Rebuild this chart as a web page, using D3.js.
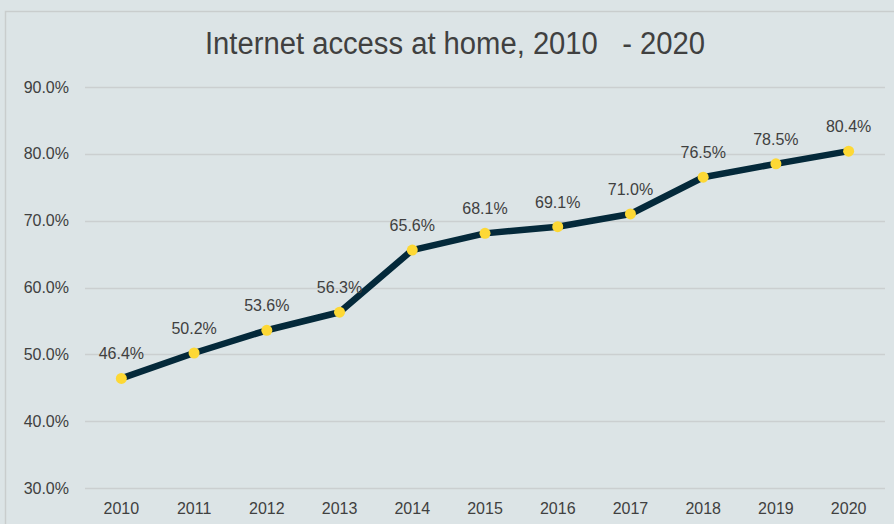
<!DOCTYPE html>
<html>
<head>
<meta charset="utf-8">
<script src="https://cdn.jsdelivr.net/npm/d3@7"></script>
<style>
  body { margin: 0; background: #dce4e6; }
  svg { display: block; font-family: "Liberation Sans", Arial, sans-serif; }
</style>
</head>
<body>
<div id="chart"></div>
<script>
// data
const years  = ['2010','2011','2012','2013','2014','2015','2016','2017','2018','2019','2020'];
const access = [46.4, 50.2, 53.6, 56.3, 65.6, 68.1, 69.1, 71.0, 76.5, 78.5, 80.4];
const yTicks = [30, 40, 50, 60, 70, 80, 90];
const title  = 'Internet access at home, 2010   - 2020';

const width  = 894;
const height = 524;
const margin = { top: 87, right: 9, bottom: 36, left: 85 };

const svg = d3.select('#chart').append('svg')
  .attr('width', width)
  .attr('height', height);

// chart frame (runs off the right/bottom edge like the original)
svg.append('rect')
  .attr('x', 5.5).attr('y', 11.5)
  .attr('width', width + 10).attr('height', height + 10)
  .attr('fill', '#dce4e6')
  .attr('stroke', '#c9cdcd')
  .attr('stroke-width', 1.5);

const x = d3.scaleBand()
  .domain(years)
  .range([margin.left, width - margin.right])
  .padding(0);

const y = d3.scaleLinear()
  .domain([30, 90])
  .range([height - margin.bottom, margin.top]);

// gridlines
svg.append('g')
  .selectAll('line')
  .data(yTicks)
  .join('line')
  .attr('x1', margin.left)
  .attr('x2', width - margin.right)
  .attr('y1', d => Math.round(y(d)) + 0.5)
  .attr('y2', d => Math.round(y(d)) + 0.5)
  .attr('stroke', '#cbcfd0')
  .attr('stroke-width', 1.5);

// y axis labels
const yAxis = svg.append('g')
  .attr('transform', `translate(${margin.left},0)`)
  .call(d3.axisLeft(y).tickValues(yTicks).tickFormat(d => d.toFixed(1) + '%').tickSize(0).tickPadding(16));
yAxis.select('.domain').remove();
yAxis.selectAll('text')
  .attr('fill', '#404040')
  .style('font-size', '16px');

// x axis labels
const xAxis = svg.append('g')
  .attr('transform', `translate(0,${height - margin.bottom})`)
  .call(d3.axisBottom(x).tickSize(0).tickPadding(15));
xAxis.select('.domain').remove();
xAxis.selectAll('text')
  .attr('fill', '#404040')
  .style('font-size', '16px');

const cx = d => x(d) + x.bandwidth() / 2;
const pts = years.map((yr, i) => ({ yr, v: access[i] }));

// the line
svg.append('path')
  .datum(pts)
  .attr('fill', 'none')
  .attr('stroke', '#04293a')
  .attr('stroke-width', 6.5)
  .attr('stroke-linejoin', 'round')
  .attr('d', d3.line().x(d => cx(d.yr)).y(d => y(d.v)));

// markers
svg.append('g')
  .selectAll('circle')
  .data(pts)
  .join('circle')
  .attr('cx', d => cx(d.yr))
  .attr('cy', d => y(d.v))
  .attr('r', 5.5)
  .attr('fill', '#fdd835');

// data labels
svg.append('g')
  .selectAll('text')
  .data(pts)
  .join('text')
  .attr('x', d => cx(d.yr))
  .attr('y', d => y(d.v) - 19)
  .attr('text-anchor', 'middle')
  .attr('fill', '#404040')
  .style('font-size', '16px')
  .text(d => d.v.toFixed(1) + '%');

// title
svg.append('text')
  .attr('x', 455)
  .attr('y', 54)
  .attr('text-anchor', 'middle')
  .attr('fill', '#404040')
  .attr('textLength', 500)
  .attr('lengthAdjust', 'spacingAndGlyphs')
  .style('font-size', '31px')
  .style('white-space', 'pre')
  .text(title);
</script>
</body>
</html>
